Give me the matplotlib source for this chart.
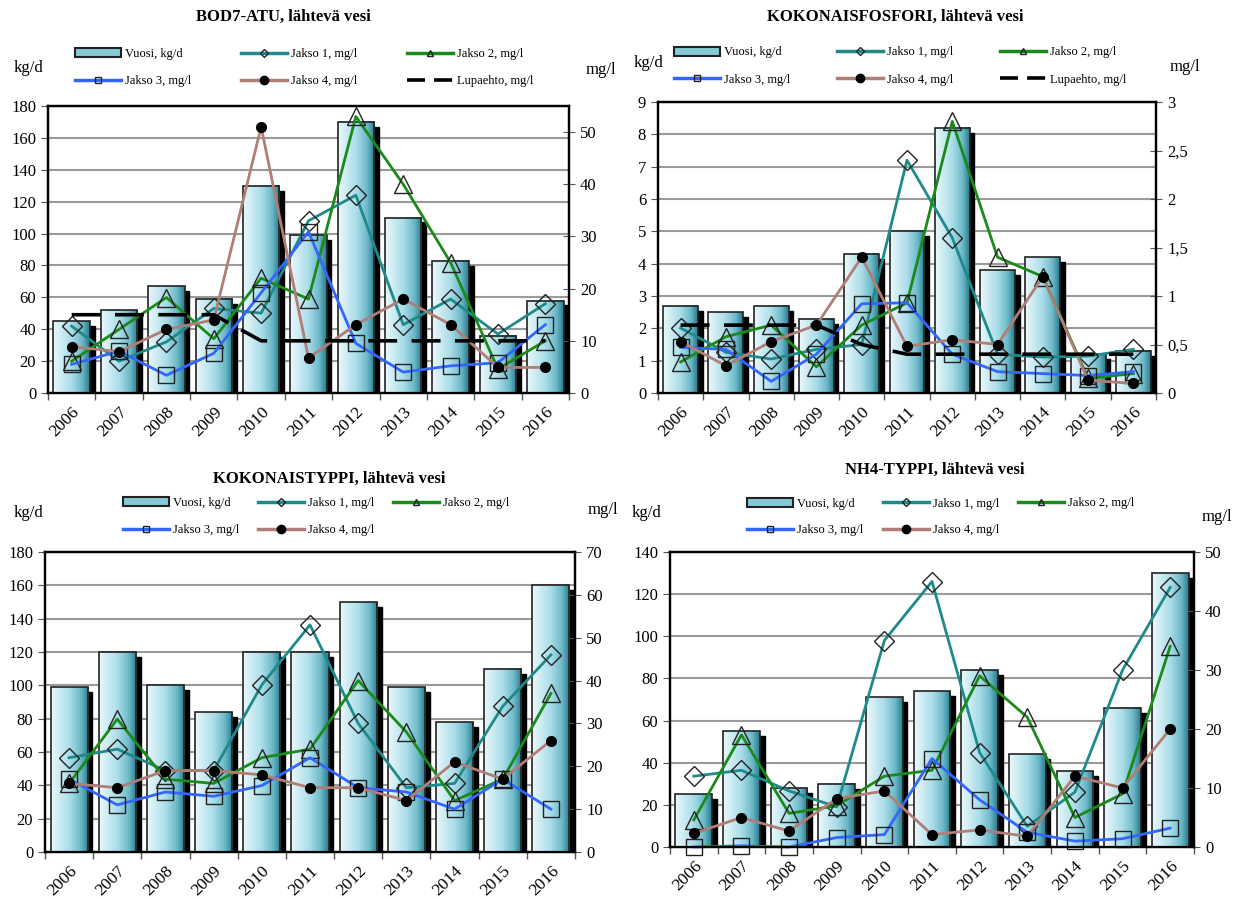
import numpy as np
import matplotlib
matplotlib.use('Agg')
import matplotlib.pyplot as plt
from matplotlib.colors import LinearSegmentedColormap
from matplotlib.lines import Line2D
from matplotlib.patches import Patch, Rectangle
from matplotlib.ticker import MultipleLocator, FuncFormatter

plt.rcParams['font.family'] = ['Liberation Serif', 'DejaVu Serif']

years = ['2006', '2007', '2008', '2009', '2010', '2011', '2012', '2013', '2014', '2015', '2016']

# BOD7-ATU
bod_vuosi = [45, 52, 67, 59, 130, 99, 170, 110, 83, 36, 58]
bod_j1 = [12.8, 6.1, 9.8, 16.2, 15.3, 33.0, 37.9, 13.1, 18.0, 11.3, 17.1]
bod_j2 = [6.1, 12.2, 18.3, 10.4, 22.0, 18.0, 53.0, 40.0, 25.0, 4.6, 10.0]
bod_j3 = [5.5, 8.0, 3.4, 7.6, 19.2, 30.9, 9.5, 4.0, 5.2, 5.8, 13.1]
bod_j4 = [8.9, 7.9, 12.2, 14.0, 51.0, 6.7, 13.1, 18.0, 13.1, 4.9, 4.9]
bod_lupa = [15, 15, 15, 15, 10, 10, 10, 10, 10, 10, 10]

# Kokonaisfosfori
p_vuosi = [2.7, 2.5, 2.7, 2.3, 4.3, 5.0, 8.2, 3.8, 4.2, 1.2, 1.3]
p_j1 = [0.67, 0.42, 0.35, 0.45, 0.5, 2.4, 1.6, 0.4, 0.37, 0.38, 0.45]
p_j2 = [0.32, 0.58, 0.7, 0.27, 0.7, 0.93, 2.8, 1.4, 1.2, 0.15, 0.2]
p_j3 = [0.47, 0.45, 0.12, 0.4, 0.92, 0.93, 0.4, 0.22, 0.2, 0.18, 0.22]
p_j4 = [0.53, 0.28, 0.53, 0.7, 1.4, 0.48, 0.55, 0.5, 1.2, 0.13, 0.1]
p_lupa = [0.7, 0.7, 0.7, 0.7, 0.5, 0.4, 0.4, 0.4, 0.4, 0.4, 0.4]

# Kokonaistyppi
n_vuosi = [99, 120, 100, 84, 120, 120, 150, 99, 78, 110, 160]
n_j1 = [22, 24, 19, 19, 39, 53, 30, 15, 16, 34, 46]
n_j2 = [16, 31, 17, 16, 22, 24, 40, 28, 12, 17, 37]
n_j3 = [17, 11, 14, 13, 15.5, 22, 15, 14, 10, 17, 10]
n_j4 = [16, 15, 19, 19, 18, 15, 15, 12, 21, 17, 26]

# NH4-typpi
a_vuosi = [25, 55, 28, 30, 71, 74, 84, 44, 36, 66, 130]
a_j1 = [12, 13, 9.5, 6.8, 35, 45, 16, 3.5, 9.3, 30, 44]
a_j2 = [4.6, 19, 5.7, 7, 12, 13, 29, 22, 5, 9, 34]
a_j3 = [0, 0.2, 0, 1.6, 2.1, 15, 8, 2.5, 1, 1.4, 3.2]
a_j4 = [2.3, 5, 2.7, 8.2, 9.5, 2.1, 2.9, 1.8, 12, 10, 20]

W, H = 1243, 899
fig = plt.figure(figsize=(W / 100, H / 100), dpi=100)

bar_cmap = LinearSegmentedColormap.from_list(
    'bar', [(0, '#eaf8fb'), (0.5, '#a9dde8'), (0.8, '#6bb8c8'), (1, '#2a7b8c')])
grad = np.linspace(0, 1, 64).reshape(1, -1)

c_j1, c_j2, c_j3, c_j4 = '#1f8a8a', '#1a8a1a', '#3366ff', '#b07e76'
mk_edge = '#222222'


def comma(v, pos):
    return f'{v:g}'.replace('.', ',')


def panel(box, title, title_xy, kg_xy, mg_xy, leg_xs, leg_ys,
          vuosi, j1, j2, j3, j4, lupa, ymax, ystep, y2max, y2step):
    l, t, r, b = box
    ax = fig.add_axes([l / W, 1 - b / H, (r - l) / W, (b - t) / H])
    x = np.arange(len(years))
    bw = 0.77
    for i, v in enumerate(vuosi):
        x0 = i - bw / 2
        ax.add_patch(Rectangle((x0 + 0.1, 0), bw, v - ymax * 0.017,
                               color='black', zorder=2))
        ax.imshow(grad, cmap=bar_cmap, extent=(x0, x0 + bw, 0, v),
                  aspect='auto', origin='lower', zorder=3)
        ax.add_patch(Rectangle((x0, 0), bw, v, fill=False,
                               edgecolor='#222222', lw=1.2, zorder=4))
    ax.set_xlim(-0.5, len(years) - 0.5)
    ax.set_ylim(0, ymax)
    ax.yaxis.set_major_locator(MultipleLocator(ystep))
    ax.grid(axis='y', color='#9a9a9a', lw=1.5, zorder=0)
    ax.set_axisbelow(True)
    ax.set_xticks(x)
    ax.set_xticklabels(years, rotation=45, ha='right', rotation_mode='anchor')
    ax.set_xticks(np.arange(len(years) + 1) - 0.5, minor=True)
    ax.tick_params(axis='x', which='major', length=0, labelsize=12.5, pad=8)
    ax.tick_params(axis='x', which='minor', length=5, width=1, color='#555555')
    ax.tick_params(axis='y', direction='out', length=5, labelsize=12, color='#555555')
    for s in ax.spines.values():
        s.set_linewidth(1.6)

    ax2 = ax.twinx()
    ax2.set_ylim(0, y2max)
    ax2.yaxis.set_major_locator(MultipleLocator(y2step))
    ax2.yaxis.set_major_formatter(FuncFormatter(comma))
    ax2.tick_params(axis='y', direction='inout', length=9, labelsize=12, color='#555555')
    ax2.set_xlim(-0.5, len(years) - 0.5)
    for s in ax2.spines.values():
        s.set_linewidth(1.6)

    ax2.plot(x, j1, color=c_j1, lw=2, marker='D', ms=10, mfc='none', mec=mk_edge, mew=1,
             clip_on=False)
    ax2.plot(x, j2, color=c_j2, lw=2, marker='^', ms=13, mfc='none', mec=mk_edge, mew=1,
             clip_on=False)
    ax2.plot(x, j3, color=c_j3, lw=2, marker='s', ms=12, mfc='none', mec=mk_edge, mew=1,
             clip_on=False)
    ax2.plot(x, j4, color=c_j4, lw=2, marker='o', ms=7, mfc='black', mec='black',
             clip_on=False)
    if lupa is not None:
        ax2.plot(x, lupa, color='black', lw=2.6, dashes=(8, 4))

    fig.text(title_xy[0] / W, 1 - title_xy[1] / H, title, ha='center', va='center',
             fontsize=12, fontweight='bold')
    fig.text(kg_xy[0] / W, 1 - kg_xy[1] / H, 'kg/d', ha='center', va='center', fontsize=12)
    fig.text(mg_xy[0] / W, 1 - mg_xy[1] / H, 'mg/l', ha='center', va='center', fontsize=12)

    h_vuosi = Patch(facecolor='#86cad8', edgecolor='#222222', lw=1.5)
    h1 = Line2D([], [], color=c_j1, lw=2.5, marker='D', ms=4, mfc='none', mec=mk_edge)
    h2 = Line2D([], [], color=c_j2, lw=2.5, marker='^', ms=5, mfc='none', mec=mk_edge)
    h3 = Line2D([], [], color=c_j3, lw=2.5, marker='s', ms=5, mfc='none', mec=mk_edge)
    h4 = Line2D([], [], color=c_j4, lw=2.5, marker='o', ms=6, mfc='black', mec='black')
    cols = [([h_vuosi, h3], ['Vuosi, kg/d', 'Jakso 3, mg/l']),
            ([h1, h4], ['Jakso 1, mg/l', 'Jakso 4, mg/l'])]
    if lupa is not None:
        hl = Line2D([], [], color='black', lw=2.6, dashes=(5, 2.5))
        cols.append(([h2, hl], ['Jakso 2, mg/l', 'Lupaehto, mg/l']))
    else:
        cols.append(([h2], ['Jakso 2, mg/l']))
    for xpos, (hs, labels) in zip(leg_xs, cols):
        ymid = leg_ys[0] if len(hs) == 1 else (leg_ys[0] + leg_ys[1]) / 2
        fig.legend(hs, labels, loc='center left', bbox_to_anchor=(xpos / W, 1 - ymid / H),
                   frameon=False, fontsize=9, handlelength=3.7, handletextpad=0.3,
                   borderpad=0, borderaxespad=0, labelspacing=1.2)
    return ax, ax2


panel((48, 106, 569, 393), 'BOD7-ATU, lähtevä vesi', (283, 17), (28, 68), (601, 70),
      [75, 241, 407], [53, 82],
      bod_vuosi, bod_j1, bod_j2, bod_j3, bod_j4, bod_lupa, 180, 20, 55, 10)

panel((658, 102, 1156, 393), 'KOKONAISFOSFORI, lähtevä vesi', (895, 17), (648, 63), (1185, 67),
      [674, 837, 1000], [53, 79],
      p_vuosi, p_j1, p_j2, p_j3, p_j4, p_lupa, 9, 1, 3, 0.5)

panel((45, 552, 575, 852), 'KOKONAISTYPPI, lähtevä vesi', (329, 479), (28, 513), (603, 510),
      [123, 258, 393], [503, 530],
      n_vuosi, n_j1, n_j2, n_j3, n_j4, None, 180, 20, 70, 10)

panel((670, 552, 1194, 847), 'NH4-TYPPI, lähtevä vesi', (935, 470), (647, 513), (1217, 517),
      [747, 883, 1018], [503, 531],
      a_vuosi, a_j1, a_j2, a_j3, a_j4, None, 140, 20, 50, 10)

fig.savefig('out.png', dpi=100, facecolor='white')
